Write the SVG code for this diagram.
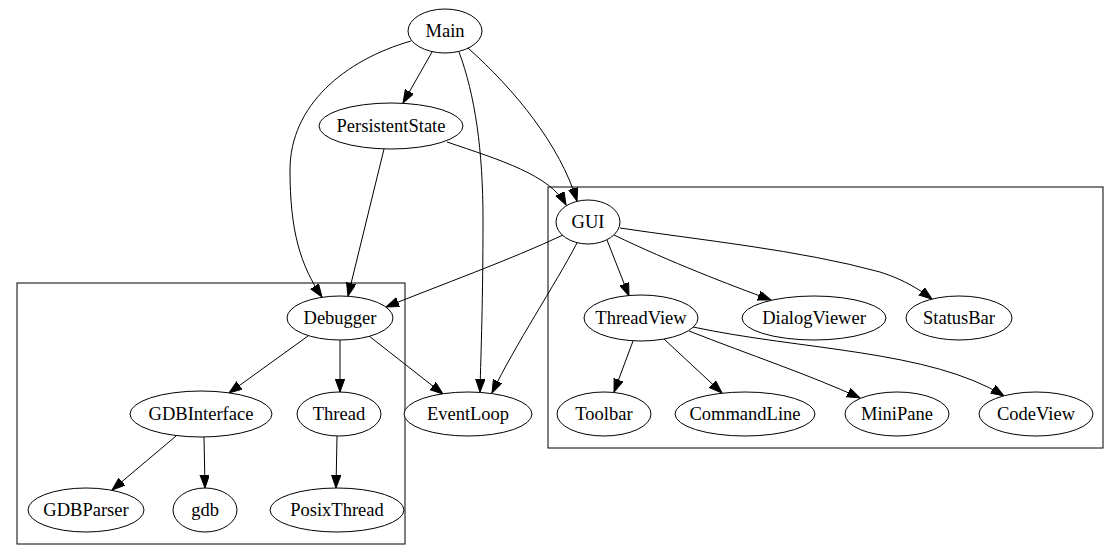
<svg xmlns="http://www.w3.org/2000/svg" width="1120" height="560" viewBox="0 0 1120 560">
<style>
.n ellipse{fill:#fff;stroke:#000;stroke-width:1}
.n text{font-size:18.5px;text-anchor:middle;fill:#000}
.c{fill:none;stroke:#000;stroke-width:1}
.e path{fill:none;stroke:#000;stroke-width:1;marker-end:url(#ah)}
</style>
<defs>
<marker id="ah" markerWidth="14" markerHeight="10" refX="13" refY="4.7" orient="auto" markerUnits="userSpaceOnUse">
<path d="M0,0 L13,4.7 L0,9.4 z" fill="#000" stroke="#000" stroke-width="1"/>
</marker>
</defs>
<rect width="1120" height="560" fill="#fff"/>
<g id="clusters">
<rect class="c" x="17" y="283" width="388" height="261"/>
<rect class="c" x="548" y="187" width="555" height="261"/>
</g>
<g class="e" id="edges">
<path d="M432,52 L403,103"/>
<path d="M411,41 C345,60 290,105 290,170 C290,230 300,265 322,297"/>
<path d="M459,52 C475,95 483,150 483,220 C483,300 481,350 480,392"/>
<path d="M468,48 C515,90 560,145 577,201"/>
<path d="M384,149 L348,296"/>
<path d="M447,142 C500,160 550,175 566,205"/>
<path d="M563,235 C510,260 440,285 386,307"/>
<path d="M577,243 C555,285 515,345 492,393"/>
<path d="M607,240 L629,296"/>
<path d="M614,235 C670,262 730,285 771,300"/>
<path d="M620,228 C700,240 800,250 880,272 C905,280 920,290 932,299"/>
<path d="M308,336 L229,393"/>
<path d="M340,340 L340,392"/>
<path d="M369,336 L443,394"/>
<path d="M633,341 L614,392"/>
<path d="M664,339 L722,393"/>
<path d="M689,331 C750,355 810,375 860,398"/>
<path d="M693,327 C800,350 930,350 1004,396"/>
<path d="M176,436 L112,490"/>
<path d="M204,437 L205,488"/>
<path d="M337,436 L336,488"/>
</g>
<g font-family="'Liberation Serif', 'Times New Roman', 'DejaVu Serif', serif">
<g class="n" id="Main"><ellipse cx="445" cy="31" rx="37" ry="22"/><text x="445" y="37">Main</text></g>
<g class="n" id="PersistentState"><ellipse cx="391" cy="126" rx="72" ry="23"/><text x="391" y="132">PersistentState</text></g>
<g class="n" id="GUI"><ellipse cx="588" cy="222" rx="32" ry="22"/><text x="588" y="228">GUI</text></g>
<g class="n" id="Debugger"><ellipse cx="340" cy="318" rx="53" ry="22"/><text x="340" y="324">Debugger</text></g>
<g class="n" id="ThreadView"><ellipse cx="641" cy="318" rx="57" ry="23"/><text x="641" y="324">ThreadView</text></g>
<g class="n" id="DialogViewer"><ellipse cx="814" cy="318" rx="72" ry="22"/><text x="814" y="324">DialogViewer</text></g>
<g class="n" id="StatusBar"><ellipse cx="959" cy="318" rx="53" ry="22"/><text x="959" y="324">StatusBar</text></g>
<g class="n" id="GDBInterface"><ellipse cx="201" cy="414" rx="71" ry="23"/><text x="201" y="420">GDBInterface</text></g>
<g class="n" id="Thread"><ellipse cx="339" cy="414" rx="42" ry="22"/><text x="339" y="420">Thread</text></g>
<g class="n" id="EventLoop"><ellipse cx="468" cy="414" rx="64" ry="22"/><text x="468" y="420">EventLoop</text></g>
<g class="n" id="Toolbar"><ellipse cx="604" cy="414" rx="47" ry="22"/><text x="604" y="420">Toolbar</text></g>
<g class="n" id="CommandLine"><ellipse cx="745" cy="414" rx="70" ry="22"/><text x="745" y="420">CommandLine</text></g>
<g class="n" id="MiniPane"><ellipse cx="897" cy="414" rx="52" ry="22"/><text x="897" y="420">MiniPane</text></g>
<g class="n" id="CodeView"><ellipse cx="1036" cy="414" rx="57" ry="22"/><text x="1036" y="420">CodeView</text></g>
<g class="n" id="GDBParser"><ellipse cx="86" cy="510" rx="58" ry="22"/><text x="86" y="516">GDBParser</text></g>
<g class="n" id="gdb"><ellipse cx="205" cy="510" rx="32" ry="22"/><text x="205" y="516">gdb</text></g>
<g class="n" id="PosixThread"><ellipse cx="337" cy="510" rx="67" ry="22"/><text x="337" y="516">PosixThread</text></g>
</g>
</svg>
